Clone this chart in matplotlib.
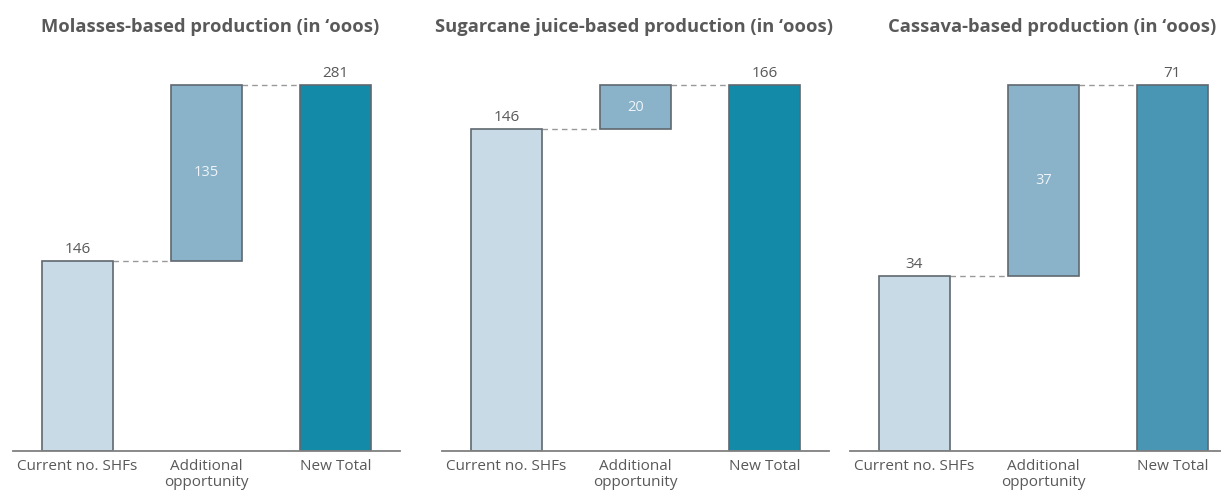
import matplotlib
matplotlib.use("Agg")
import matplotlib.pyplot as plt

titles = ["Molasses-based production (in \u2018ooos)",
          "Sugarcane juice-based production (in \u2018ooos)",
          "Cassava-based production (in \u2018ooos)"]
categories = ["Current no. SHFs", "Additional\nopportunity", "New Total"]
current = [146, 146, 34]
additional = [135, 20, 37]
new_total = [281, 166, 71]
total_colors = ["#138aa8", "#138aa8", "#4896b3"]

W, H = 1221, 493
fig = plt.figure(figsize=(W / 100, H / 100), dpi=100)
plt.rcParams['font.family'] = ['Open Sans', 'DejaVu Sans']

base_px = 451
top_px = 85
ax_top_px = 60
ax_px = [(13, 400), (442, 829), (850, 1221)]
unit_px = 129.0

text_gray = "#595959"
edge = "#5f6870"

for i in range(3):
    l, r = ax_px[i]
    ax = fig.add_axes([l / W, 1 - base_px / H, (r - l) / W, (base_px - ax_top_px) / H])
    tot = new_total[i]
    ymax = tot * (base_px - ax_top_px) / (base_px - top_px)
    xr = -0.5 + (r - l) / unit_px
    ax.set_xlim(-0.5, xr)
    ax.set_ylim(0, ymax)
    bw = 0.555
    ax.bar(0, current[i], width=bw, color="#c8dae6", edgecolor=edge, linewidth=1.2, zorder=2)
    ax.bar(1, additional[i], bottom=current[i], width=bw, color="#8ab2c9", edgecolor=edge, linewidth=1.2, zorder=2)
    ax.bar(2, new_total[i], width=bw, color=total_colors[i], edgecolor=edge, linewidth=1.2, zorder=2)
    ax.plot([bw / 2, 1 - bw / 2], [current[i]] * 2, ls=(0, (4, 3)), color="#999999", lw=1, zorder=1)
    ax.plot([1 + bw / 2, 2 - bw / 2], [new_total[i]] * 2, ls=(0, (4, 3)), color="#999999", lw=1, zorder=1)
    off = ymax * 0.03
    ax.text(0, current[i] + off, str(current[i]), ha="center", va="center", fontsize=11, color=text_gray)
    ax.text(1, current[i] + additional[i] / 2, str(additional[i]), ha="center", va="center", fontsize=10.5, color="#eef4f8")
    ax.text(2, new_total[i] + off, str(new_total[i]), ha="center", va="center", fontsize=11, color=text_gray)
    for s in ["top", "right", "left"]:
        ax.spines[s].set_visible(False)
    ax.spines["bottom"].set_color("#808080")
    ax.spines["bottom"].set_linewidth(1.3)
    ax.set_yticks([])
    ax.set_xticks([0, 1, 2])
    ax.set_xticklabels(categories, fontsize=11, color=text_gray, linespacing=1.1)
    ax.tick_params(axis="x", length=0, pad=6)

title_x = [210, 634, 1052]
for i in range(3):
    fig.text(title_x[i] / W, 1 - 27 / H, titles[i], ha="center", va="center",
             fontsize=13.2, fontweight="bold", color=text_gray)

fig.savefig("out.png", dpi=100)
